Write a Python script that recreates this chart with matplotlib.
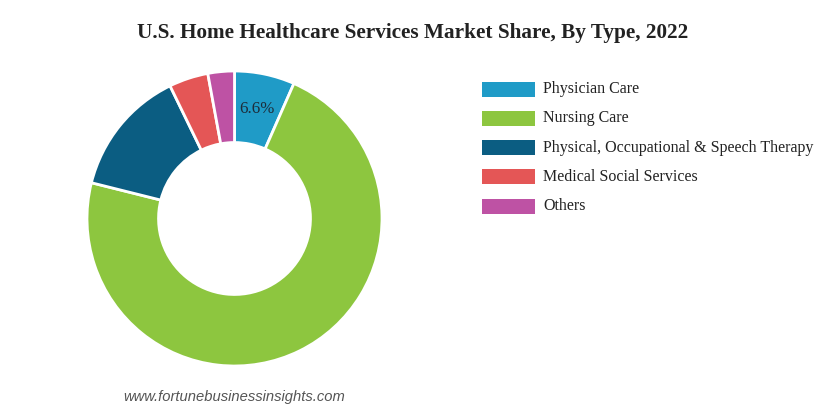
import matplotlib
matplotlib.use("Agg")
import matplotlib.pyplot as plt
from matplotlib.patches import Rectangle

categories = ["Physician Care", "Nursing Care", "Physical, Occupational & Speech Therapy",
              "Medical Social Services", "Others"]
shares = [6.6, 72.3, 13.9, 4.3, 2.9]
colors = ["#1f9bc7", "#8dc63f", "#0b5d82", "#e45656", "#be52a4"]
shown_label = "6.6%"

W, H = 826, 412
fig = plt.figure(figsize=(W / 100, H / 100), dpi=100)
fig.patch.set_facecolor("white")

cx, cy, R = 234.5, 218.5, 147.5
ax = fig.add_axes([(cx - R) / W, (H - cy - R) / H, 2 * R / W, 2 * R / H])
wedges, _ = ax.pie(shares, colors=colors, startangle=90, counterclock=False, radius=1,
                   wedgeprops=dict(width=0.485, edgecolor="white", linewidth=2))
ax.set_xlim(-1, 1)
ax.set_ylim(-1, 1)
ax.set_aspect("equal")
ax.axis("off")

# label on first slice
ax.text((257 - cx) / R, (cy - 109) / R, shown_label, ha="center", va="center",
        fontsize=12.2, family="Liberation Serif", color="#1d2d3a")

fig.text(0.5, (H - 33) / H, "U.S. Home Healthcare Services Market Share, By Type, 2022",
         ha="center", va="center", fontsize=15.3, fontweight="bold",
         family="Liberation Serif", color="#222222")

# legend
for i, (lab, col) in enumerate(zip(categories, colors)):
    yc = 89 + i * 29.3
    fig.patches.append(Rectangle((482 / W, (H - yc - 7.5) / H), 53 / W, 15 / H,
                                 transform=fig.transFigure, facecolor=col, edgecolor="none"))
    fig.text(543 / W, (H - yc) / H, lab, ha="left", va="center", fontsize=11.5,
             family="Liberation Serif", color="#222222")

fig.text(123 / W, (H - 397) / H, "www.fortunebusinessinsights.com", ha="left", va="center",
         fontsize=10.6, style="italic", family="Liberation Sans", color="#555555")

fig.savefig("out.png", dpi=100)
